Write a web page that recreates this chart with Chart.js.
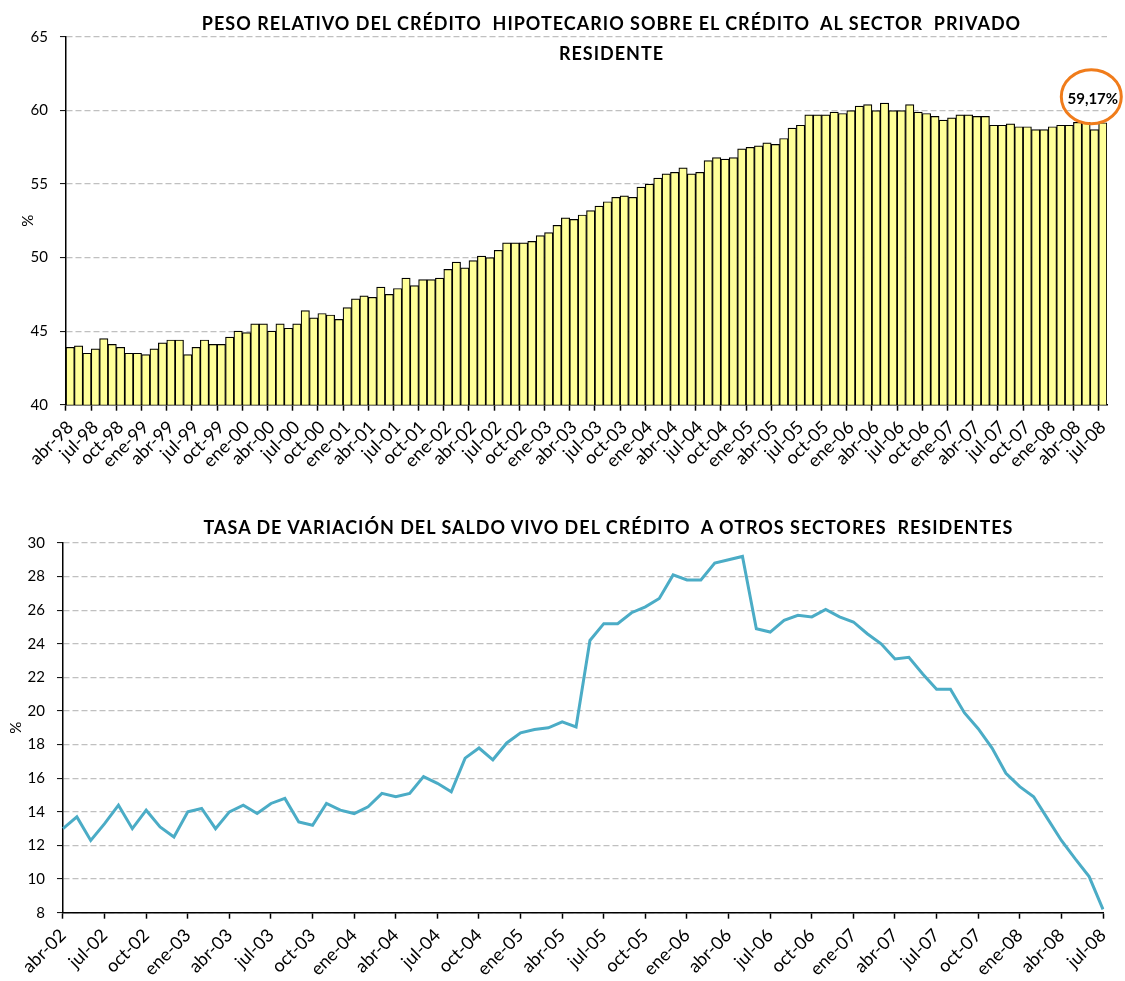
<!DOCTYPE html>
<html>
<head>
<meta charset="utf-8">
<script src="https://cdn.jsdelivr.net/npm/chart.js@4"></script>
<style>
body{margin:0;background:#fff;overflow:hidden;width:1125px;height:981px;position:relative;font-family:Lato,"Open Sans",sans-serif;}
canvas{position:absolute;left:0;}
#c1{top:0}
#c2{top:490px}
.ttl{position:absolute;left:0;width:1125px;text-align:center;font-weight:bold;font-size:18px;letter-spacing:1px;white-space:pre;color:#000;line-height:30px}
</style>
</head>
<body>
<canvas id="c1" width="1125" height="480"></canvas>
<canvas id="c2" width="1125" height="500"></canvas>
<div class="ttl" style="top:8px;left:49px">PESO RELATIVO DEL CRÉDITO  HIPOTECARIO SOBRE EL CRÉDITO  AL SECTOR  PRIVADO
RESIDENTE</div>
<div class="ttl" style="top:512px;left:46px">TASA DE VARIACIÓN DEL SALDO VIVO DEL CRÉDITO  A OTROS SECTORES  RESIDENTES</div>
<script>
const meses = ['ene','feb','mar','abr','may','jun','jul','ago','sep','oct','nov','dic'];

function monthLabels(year, month, count){
    var out = [];
    for (var i = 0; i < count; i++) {
        var m = (month + i) % 12;
        var y = year + Math.floor((month + i) / 12);
        out.push(meses[m] + '-' + String(y).slice(2));
    }
    return out;
}

// peso relativo, abr-98 .. jul-08 (%)
const pesoLabels = monthLabels(1998, 3, 124);
const pesoValues = [
    43.9, 44.0, 43.5, 43.8, 44.5, 44.1, 43.9, 43.5, 43.5, 43.4,
    43.8, 44.2, 44.4, 44.4, 43.4, 43.9, 44.4, 44.1, 44.1, 44.6,
    45.0, 44.9, 45.5, 45.5, 45.0, 45.5, 45.2, 45.5, 46.4, 45.9,
    46.2, 46.1, 45.8, 46.6, 47.2, 47.4, 47.3, 48.0, 47.5, 47.9,
    48.6, 48.1, 48.5, 48.5, 48.6, 49.2, 49.7, 49.3, 49.8, 50.1,
    50.0, 50.5, 51.0, 51.0, 51.0, 51.1, 51.5, 51.7, 52.2, 52.7,
    52.6, 52.9, 53.2, 53.5, 53.8, 54.1, 54.2, 54.1, 54.8, 55.0,
    55.4, 55.7, 55.8, 56.1, 55.7, 55.8, 56.6, 56.8, 56.7, 56.8,
    57.4, 57.5, 57.6, 57.8, 57.7, 58.1, 58.8, 59.0, 59.7, 59.7,
    59.7, 59.9, 59.8, 60.0, 60.3, 60.4, 60.0, 60.5, 60.0, 60.0,
    60.4, 59.9, 59.8, 59.6, 59.35, 59.5, 59.7, 59.7, 59.6, 59.6,
    59.0, 59.0, 59.1, 58.9, 58.9, 58.7, 58.7, 58.9, 59.0, 59.0,
    59.2, 59.2, 58.7, 59.17
];
const pesoTicks = {min: 40, max: 65, step: 5};

// tasa de variacion, abr-02 .. jul-08 (%)
const tasaLabels = monthLabels(2002, 3, 76);
const tasaValues = [
    13.0, 13.7, 12.3, 13.3, 14.4, 13.0, 14.1, 13.1, 12.5, 14.0,
    14.2, 13.0, 14.0, 14.4, 13.9, 14.5, 14.8, 13.4, 13.2, 14.5,
    14.1, 13.9, 14.3, 15.1, 14.9, 15.1, 16.1, 15.7, 15.2, 17.2,
    17.8, 17.1, 18.1, 18.7, 18.9, 19.0, 19.35, 19.05, 24.2, 25.2,
    25.2, 25.85, 26.2, 26.7, 28.1, 27.8, 27.8, 28.8, 29.0, 29.2,
    24.9, 24.7, 25.4, 25.7, 25.6, 26.05, 25.6, 25.3, 24.6, 24.0,
    23.1, 23.2, 22.2, 21.3, 21.3, 19.9, 18.95, 17.8, 16.3, 15.5,
    14.9, 13.6, 12.3, 11.2, 10.15, 8.2
];
const tasaTicks = {min: 8, max: 30, step: 2};

const ultimoTexto = pesoValues[pesoValues.length - 1].toFixed(2).replace('.', ',') + '%';

Chart.defaults.font.family = 'Lato, "Open Sans", sans-serif';
Chart.defaults.font.size = 15;
Chart.defaults.color = '#000';

const everyThird = function(val, i){
    return i % 3 === 0 ? this.getLabelForValue(val) : '';
};

// titlePad: places the "%" relative to the tick labels
const yAxis = function(t, titlePad){
    return {
        min: t.min, max: t.max,
        ticks: {stepSize: t.step, padding: 12, font: {size: 15}},
        title: {display: true, text: '%', font: {size: 15}, padding: titlePad},
        grid: {color: '#c0c0c0', lineWidth: 1.2, tickColor: '#000', tickLength: 6, tickWidth: 1, tickBorderDash: []},
        border: {color: '#000', width: 1.5, dash: [6, 3]}
    };
};

const xAxis = function(){
    return {
        ticks: {autoSkip: false, maxRotation: 45, minRotation: 45, callback: everyThird, padding: 6, font: {size: 18}},
        grid: {
            drawOnChartArea: false, tickLength: 6, tickWidth: 1.5,
            tickColor: function(c){ return c.index % 3 === 0 ? '#000' : 'rgba(0,0,0,0)'; }
        },
        border: {color: '#000', width: 1.5}
    };
};

const circlePlugin = {
    id: 'ultimo',
    afterDatasetsDraw(chart){
        const meta = chart.getDatasetMeta(0);
        const bar = meta.data[meta.data.length - 1];
        const ctx = chart.ctx;
        const x = bar.x - 10, y = bar.y - 24;
        ctx.save();
        ctx.font = 'bold 15px Lato, "Open Sans", sans-serif';
        ctx.textAlign = 'center';
        ctx.textBaseline = 'middle';
        ctx.fillStyle = '#000';
        ctx.fillText(ultimoTexto, x, y);
        ctx.strokeStyle = '#F07C1B';
        ctx.lineWidth = 3;
        ctx.beginPath();
        ctx.ellipse(x - 1.5, y - 2, 30, 27, 0, 0, 2 * Math.PI);
        ctx.stroke();
        ctx.restore();
    }
};

new Chart('c1', {
    type: 'bar',
    data: {
        labels: pesoLabels,
        datasets: [{
            data: pesoValues,
            backgroundColor: '#FFFF99',
            borderColor: '#000',
            borderWidth: 1.2,
            barPercentage: 1,
            categoryPercentage: 1
        }]
    },
    options: {
        responsive: false,
        animation: false,
        layout: {padding: {top: 37, right: 18, left: 15, bottom: 2}},
        plugins: {legend: {display: false}, tooltip: {enabled: false}},
        scales: {x: xAxis(), y: yAxis(pesoTicks, {top: 4, bottom: -18.4})}
    },
    plugins: [circlePlugin]
});

new Chart('c2', {
    type: 'line',
    data: {
        labels: tasaLabels,
        datasets: [{
            data: tasaValues,
            borderColor: '#4BACC6',
            borderWidth: 3,
            pointRadius: 0,
            tension: 0,
            fill: false
        }]
    },
    options: {
        responsive: false,
        animation: false,
        layout: {padding: {top: 53, right: 22, left: 4, bottom: 4}},
        plugins: {legend: {display: false}, tooltip: {enabled: false}},
        scales: {x: xAxis(), y: yAxis(tasaTicks, {top: 3, bottom: -9.4})}
    }
});
</script>
</body>
</html>
